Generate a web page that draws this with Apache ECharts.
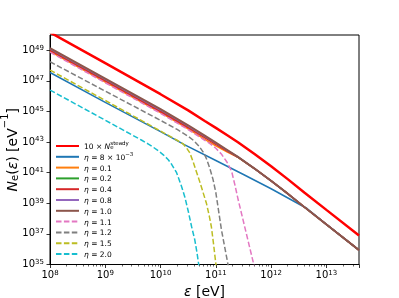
<!DOCTYPE html>
<html><head><meta charset="utf-8">
<script src="https://cdn.jsdelivr.net/npm/echarts@6/dist/echarts.min.js"></script>
<style>html,body{margin:0;padding:0;background:#fff}#c{width:399px;height:298px}</style>
</head><body><div id="c"></div>
<script>
// All values are log10 exponents: energies log10(eps/eV), spectra log10(N_e / eV^-1)
const E_main = [8.0, 9.0, 10.0, 10.5, 10.8, 11.0, 11.2, 11.4, 11.7, 12.0, 12.3, 12.6, 13.0, 13.59];
const N_10steady = [50.17, 48.16, 46.13, 45.07, 44.38, 43.93, 43.46, 42.99, 42.22, 41.42, 40.58, 39.71, 38.57, 36.9];
const N_eta010 = [48.93, 46.93, 44.93, 43.87, 43.18, 42.75, 42.37, 42.0, 41.27, 40.47, 39.63, 38.76, 37.62, 35.94];
const N_eta020 = [49.05, 47.05, 45.05, 44.0, 43.33, 42.9, 42.46, 42.02, 41.27, 40.47, 39.63, 38.76, 37.62, 35.94];
const N_eta040 = [49.0, 47.0, 45.0, 43.95, 43.29, 42.86, 42.43, 42.01, 41.27, 40.47, 39.63, 38.76, 37.62, 35.94];
const N_eta080 = [49.1, 47.1, 45.1, 44.05, 43.38, 42.94, 42.48, 42.03, 41.27, 40.47, 39.63, 38.76, 37.62, 35.94];
const N_eta100 = [49.15, 47.15, 45.15, 44.1, 43.42, 42.97, 42.5, 42.03, 41.27, 40.47, 39.63, 38.76, 37.62, 35.94];

const E_eta008 = [8.0, 9.0, 10.0, 10.43, 11.0, 11.5, 12.0, 12.65, 13.0, 13.59];
const N_eta008 = [47.55, 45.6, 43.68, 42.83, 41.8, 40.88, 39.95, 38.66, 37.62, 35.94];

const E_eta110 = [8.0, 9.0, 10.0, 10.5, 10.8, 10.9, 11.0, 11.1, 11.2, 11.285, 11.345, 11.4, 11.46, 11.52, 11.58, 11.64, 11.7];
const N_eta110 = [48.88, 46.88, 44.88, 43.82, 43.12, 42.88, 42.6, 42.22, 41.7, 41.1, 40.2, 39.3, 38.4, 37.5, 36.6, 35.7, 34.8];

const E_eta120 = [8.0, 9.0, 10.0, 10.3, 10.5, 10.6, 10.7, 10.78, 10.83, 10.89, 10.95, 11.0, 11.04, 11.1, 11.16, 11.22, 11.25];
const N_eta120 = [48.25, 46.33, 44.42, 43.83, 43.38, 43.1, 42.72, 42.3, 41.92, 41.3, 40.55, 39.7, 38.75, 37.3, 36.15, 35.0, 34.4];

const E_eta150 = [8.0, 9.0, 10.0, 10.3, 10.41, 10.47, 10.53, 10.59, 10.65, 10.71, 10.77, 10.83, 10.88, 10.92, 10.96, 11.0, 11.03];
const N_eta150 = [47.71, 45.72, 43.72, 43.12, 42.88, 42.62, 42.3, 41.7, 41.05, 40.4, 39.7, 39.0, 38.2, 37.45, 36.3, 35.05, 34.2];

const E_eta200 = [8.0, 9.0, 9.66, 9.78, 9.87, 9.96, 10.05, 10.14, 10.2, 10.29, 10.38, 10.44, 10.5, 10.56, 10.62, 10.66, 10.69, 10.72];
const N_eta200 = [46.4, 44.43, 43.12, 42.87, 42.66, 42.43, 42.17, 41.85, 41.55, 41.0, 40.1, 39.4, 38.5, 37.5, 36.6, 35.75, 35.0, 34.3];

const FONT = 'DejaVu Sans';
const pts = (E, N) => E.map((e, i) => [Math.pow(10, e), Math.pow(10, N[i])]);

const defs = [
  {name: 'steady', label: '{n|10 × }{i|N}{subz|e}{sup|steady}', E: E_main, N: N_10steady, color: '#ff0000', w: 2.5},
  {name: 'eta008', label: '{i|η}{n| = 8 × 10}{sup|−3}', E: E_eta008, N: N_eta008, color: '#1f77b4', w: 1.5},
  {name: 'eta010', label: '{i|η}{n| = 0.1}', E: E_main, N: N_eta010, color: '#ff7f0e', w: 1.5},
  {name: 'eta020', label: '{i|η}{n| = 0.2}', E: E_main, N: N_eta020, color: '#2ca02c', w: 1.5},
  {name: 'eta040', label: '{i|η}{n| = 0.4}', E: E_main, N: N_eta040, color: '#d62728', w: 1.5},
  {name: 'eta080', label: '{i|η}{n| = 0.8}', E: E_main, N: N_eta080, color: '#9467bd', w: 1.5},
  {name: 'eta100', label: '{i|η}{n| = 1.0}', E: E_main, N: N_eta100, color: '#8c564b', w: 2},
  {name: 'eta110', label: '{i|η}{n| = 1.1}', E: E_eta110, N: N_eta110, color: '#e377c2', w: 1.5, dash: true},
  {name: 'eta120', label: '{i|η}{n| = 1.2}', E: E_eta120, N: N_eta120, color: '#7f7f7f', w: 1.5, dash: true},
  {name: 'eta150', label: '{i|η}{n| = 1.5}', E: E_eta150, N: N_eta150, color: '#bcbd22', w: 1.5, dash: true},
  {name: 'eta200', label: '{i|η}{n| = 2.0}', E: E_eta200, N: N_eta200, color: '#17becf', w: 1.5, dash: true}
];
const labelOf = {};
defs.forEach(d => labelOf[d.name] = d.label);

const supLabel = v => {
  const e = Math.log10(v);
  if (Math.abs(e - Math.round(e)) > 0.01) return '';
  return '{b|10}{s|' + Math.round(e) + '}';
};
const tickRich = {
  b: {fontSize: 10, lineHeight: 12, fontFamily: FONT, color: '#000'},
  s: {fontSize: 7, lineHeight: 7, verticalAlign: 'top', fontFamily: FONT, color: '#000'}
};

const chart = echarts.init(document.getElementById('c'), null, {renderer: 'canvas'});
chart.setOption({
  animation: false,
  backgroundColor: '#fff',
  grid: {left: 50, right: 40, top: 35, bottom: 33.5, containLabel: false, outerBoundsMode: 'none',
         show: true, borderColor: '#000', borderWidth: 1, backgroundColor: 'transparent'},
  xAxis: {
    type: 'log', logBase: 10, min: 1e8, max: Math.pow(10, 13.59), interval: 1,
    axisLine: {lineStyle: {color: '#000', width: 1}},
    axisTick: {show: true, length: 3.5, lineStyle: {color: '#000', width: 0.8}},
    minorTick: {show: true, splitNumber: 9, length: 2, lineStyle: {color: '#000', width: 0.6}},
    splitLine: {show: false},
    axisLabel: {margin: 5, showMaxLabel: false, formatter: supLabel, rich: tickRich},
    name: '{i|ε}{n| [eV]}', nameLocation: 'middle', nameGap: 17,
    nameTextStyle: {rich: {i: {fontSize: 14, fontStyle: 'italic', fontFamily: FONT, color: '#000'}, n: {fontSize: 14, fontFamily: FONT, color: '#000'}}}
  },
  yAxis: {
    type: 'log', logBase: 10, min: 1e35, max: 1e50, interval: 2,
    axisLine: {lineStyle: {color: '#000', width: 1}},
    axisTick: {show: true, length: 3.5, lineStyle: {color: '#000', width: 0.8}},
    splitLine: {show: false},
    axisLabel: {margin: 6, showMaxLabel: false, formatter: supLabel, rich: tickRich},
    name: '{i|N}{sub|e}{n|(}{i|ε}{n|) [eV}{sup|−1}{n|]}', nameLocation: 'middle', nameGap: 30, nameRotate: 90,
    nameMoveOverlap: false,
    nameTextStyle: {rich: {
      i: {fontSize: 14, fontStyle: 'italic', fontFamily: FONT, color: '#000', lineHeight: 20, verticalAlign: 'bottom'},
      n: {fontSize: 14, fontFamily: FONT, color: '#000', lineHeight: 20, verticalAlign: 'bottom'},
      sub: {fontSize: 10, fontFamily: FONT, color: '#000', lineHeight: 10, verticalAlign: 'bottom'},
      sup: {fontSize: 10, fontFamily: FONT, color: '#000', lineHeight: 10, verticalAlign: 'top'}
    }}
  },
  legend: {
    orient: 'vertical', left: 55, top: 141, padding: 0,
    itemWidth: 23, itemHeight: 7, itemGap: 0.8, selectedMode: false,
    itemStyle: {opacity: 0},
    data: defs.map(d => d.name),
    formatter: n => labelOf[n],
    textStyle: {fontFamily: FONT, fontSize: 7.5, lineHeight: 10, color: '#000', rich: {
      n: {fontSize: 7.5, fontFamily: FONT, lineHeight: 10, verticalAlign: 'bottom'},
      i: {fontSize: 7.5, fontStyle: 'italic', fontFamily: FONT, lineHeight: 10, verticalAlign: 'bottom'},
      subz: {fontSize: 5.5, fontFamily: FONT, lineHeight: 5, verticalAlign: 'bottom', width: 0.1},
      sup: {fontSize: 5.5, fontFamily: FONT, lineHeight: 6, verticalAlign: 'top'}
    }}
  },
  series: defs.map(d => ({
    name: d.name, type: 'line', data: pts(d.E, d.N),
    showSymbol: false, symbol: 'none', clip: true, smooth: false,
    lineStyle: {color: d.color, width: d.w, type: d.dash ? [5.5, 2.4] : 'solid'},
    itemStyle: {color: d.color}
  }))
});
</script></body></html>
